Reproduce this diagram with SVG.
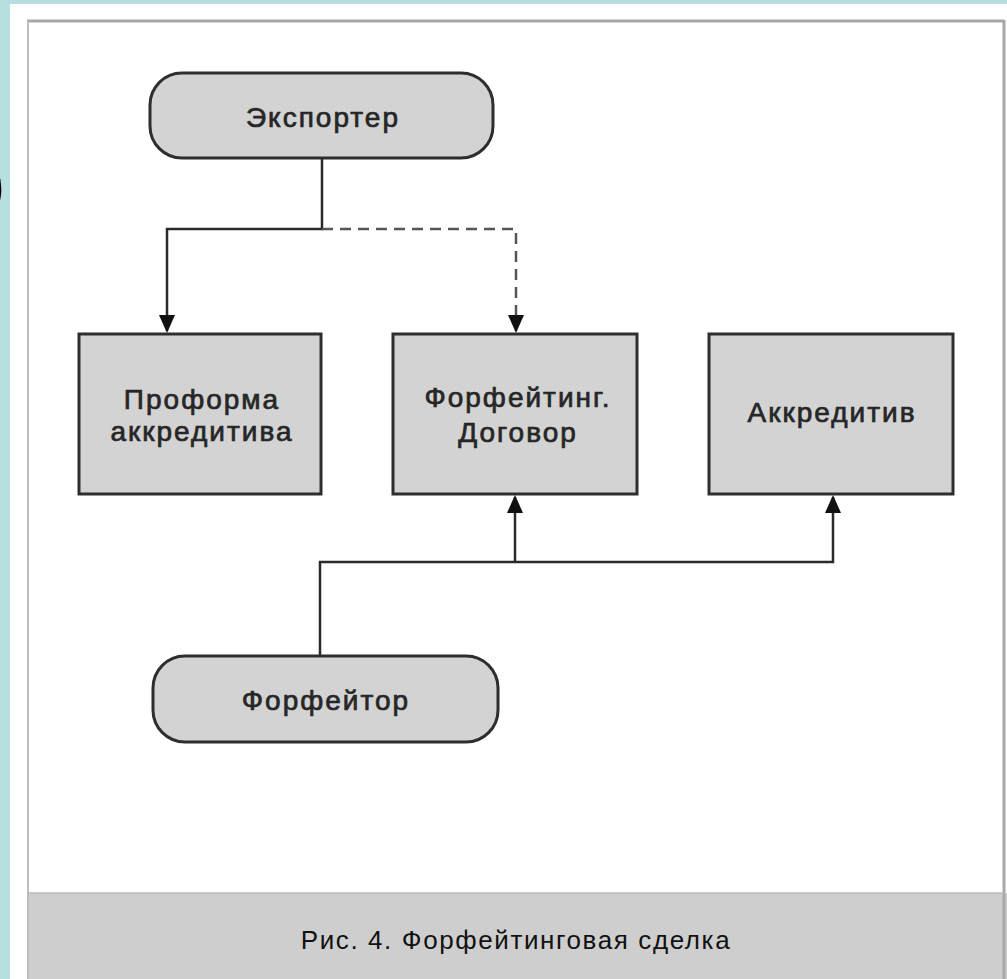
<svg xmlns="http://www.w3.org/2000/svg" width="1007" height="979" viewBox="0 0 1007 979">
<style>
.node{fill:#d3d3d3;stroke:#2e2e2e;stroke-width:3}
.lbl{font-family:"Liberation Sans",Arial,sans-serif;font-size:28px;letter-spacing:2px;fill:#262626;stroke:#262626;stroke-width:0.7;text-anchor:middle}
.cap{font-family:"Liberation Sans",Arial,sans-serif;font-size:26px;letter-spacing:1.6px;fill:#111;text-anchor:middle}
.ln{fill:none;stroke:#2a2a2a;stroke-width:2.5}
.dash{fill:none;stroke:#555;stroke-width:2.5;stroke-dasharray:11 7}
</style>
<defs>
<marker id="ah" markerUnits="userSpaceOnUse" markerWidth="18" markerHeight="22" refX="16" refY="8" orient="auto" viewBox="0 0 18 16">
<path d="M0,0 L18,8 L0,16 Z" fill="#111"/>
</marker>
</defs>
<rect x="0" y="0" width="1007" height="979" fill="#b8dfe0"/>
<rect x="10" y="4" width="997" height="975" fill="#ffffff"/>
<rect x="27" y="893" width="980" height="86" fill="#cecece"/>
<line x1="27" y1="21" x2="1004" y2="21" stroke="#a8a8a8" stroke-width="3"/>
<line x1="28" y1="21" x2="28" y2="979" stroke="#bdbdbd" stroke-width="2"/>
<line x1="1004" y1="20" x2="1004" y2="979" stroke="#a8a8a8" stroke-width="3"/>
<line x1="27" y1="893" x2="1004" y2="893" stroke="#bbbbbb" stroke-width="1.5"/>
<text x="-16" y="206" font-family="Liberation Sans,Arial,sans-serif" font-size="64" fill="#000">)</text>
<text class="cap" x="516" y="949">Рис. 4. Форфейтинговая сделка</text>

<g id="connectors">
<path class="ln" d="M322,158 V229 H167 V331" marker-end="url(#ah)"/>
<path class="dash" d="M322,229 H516 V331" marker-end="url(#ah)"/>
<path class="ln" d="M320,656 V562 H833 V497" marker-end="url(#ah)"/>
<path class="ln" d="M515,562 V497" marker-end="url(#ah)"/>
</g>

<g id="exporter">
<rect class="node" x="150" y="73" width="343" height="85" rx="32"/>
<text class="lbl" x="323" y="127">Экспортер</text>
</g>
<g id="proforma">
<rect class="node" x="79" y="334" width="242" height="160"/>
<text class="lbl" x="202" y="409">Проформа</text>
<text class="lbl" x="202" y="441">аккредитива</text>
</g>
<g id="forfaiting-contract">
<rect class="node" x="393" y="334" width="244" height="160"/>
<text class="lbl" x="518" y="407">Форфейтинг.</text>
<text class="lbl" x="518" y="442">Договор</text>
</g>
<g id="letter-of-credit">
<rect class="node" x="709" y="334" width="244" height="160"/>
<text class="lbl" x="832" y="422">Аккредитив</text>
</g>
<g id="forfaiter">
<rect class="node" x="153" y="656" width="345" height="86" rx="32"/>
<text class="lbl" x="326" y="710">Форфейтор</text>
</g>
</svg>
